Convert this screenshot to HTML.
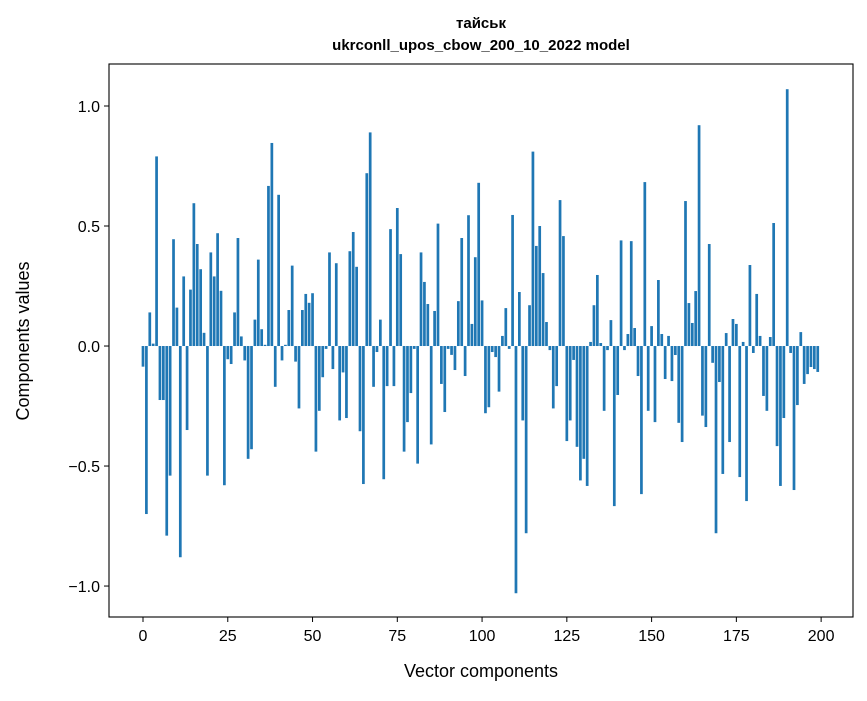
<!DOCTYPE html>
<html><head><meta charset="utf-8"><style>
body{margin:0;background:#fff;}
svg text{font-family:"Liberation Sans","DejaVu Sans",sans-serif;fill:#000;}
</style></head><body>
<svg id="chart" width="867" height="696" xmlns="http://www.w3.org/2000/svg">
<rect width="867" height="696" fill="#fff"/>
<text x="481" y="28" font-size="15" font-weight="bold" text-anchor="middle">тайськ</text>
<text x="481" y="50" font-size="15" font-weight="bold" text-anchor="middle">ukrconll_upos_cbow_200_10_2022 model</text>
<g id="bars"></g>
<g id="axes"></g>
<rect x="109" y="64" width="744" height="553" fill="none" stroke="#000" stroke-width="1.1"/>
<text x="481" y="677" font-size="18" text-anchor="middle">Vector components</text>
<text transform="translate(29,341) rotate(-90)" font-size="18" text-anchor="middle">Components values</text>
</svg>
<script>
const values = [-0.086,-0.70,0.14,0.01,0.79,-0.225,-0.225,-0.79,-0.54,0.445,0.16,-0.88,0.29,-0.35,0.235,0.595,0.425,0.32,0.055,-0.54,0.39,0.29,0.47,0.23,-0.58,
-0.055,-0.075,0.14,0.45,0.04,-0.06,-0.47,-0.43,0.11,0.36,0.07,0.005,0.667,0.846,-0.17,0.63,-0.06,0.005,0.15,0.335,-0.065,-0.26,0.15,0.217,0.18,
0.22,-0.44,-0.27,-0.13,-0.012,0.39,-0.096,0.345,-0.31,-0.11,-0.30,0.395,0.475,0.33,-0.355,-0.575,0.72,0.89,-0.17,-0.025,0.11,-0.555,-0.167,0.487,-0.167,
0.575,0.383,-0.44,-0.317,-0.196,-0.012,-0.49,0.39,0.267,0.175,-0.41,0.146,0.51,-0.158,-0.275,-0.012,-0.037,-0.1,0.187,0.45,-0.125,0.545,0.092,0.37,0.68,
0.19,-0.28,-0.255,-0.025,-0.046,-0.19,0.042,0.158,-0.012,0.546,-1.03,0.225,-0.31,-0.78,0.17,0.81,0.417,0.5,0.304,0.1,-0.017,-0.26,-0.167,0.608,0.458,
-0.396,-0.31,-0.058,-0.42,-0.56,-0.47,-0.583,0.017,0.17,0.296,0.0125,-0.27,-0.017,0.108,-0.667,-0.204,0.44,-0.017,0.05,0.437,0.075,-0.125,-0.617,0.683,-0.27,
0.083,-0.317,0.275,0.05,-0.1375,0.042,-0.146,-0.0375,-0.32,-0.40,0.604,0.179,0.096,0.229,0.92,-0.29,-0.3375,0.425,-0.07,-0.78,-0.15,-0.533,0.054,-0.40,0.1125,
0.092,-0.546,0.017,-0.646,0.3375,-0.029,0.217,0.042,-0.208,-0.27,0.0375,0.5125,-0.417,-0.583,-0.3,1.07,-0.029,-0.6,-0.246,0.058,-0.158,-0.117,-0.0875,-0.096,-0.108];
const xTicks = [0,25,50,75,100,125,150,175,200];
const yTicks = [1.0,0.5,0.0,-0.5,-1.0];
const yTickLabels = ["1.0","0.5","0.0","\u22120.5","\u22121.0"];
const NS="http://www.w3.org/2000/svg";
const X0=109,X1=853,Y0=64,Y1=617;
const xMin=-10.03,xMax=209.4,yMin=-1.129,yMax=1.175;
function xs(v){return X0+(v-xMin)/(xMax-xMin)*(X1-X0);}
function ys(v){return Y1-(v-yMin)/(yMax-yMin)*(Y1-Y0);}
const bars=document.getElementById('bars');
values.forEach((v,i)=>{
  const r=document.createElementNS(NS,'rect');
  
  
  const xa=xs(i-0.4),xb=xs(i+0.4);
  const ya=ys(Math.max(v,0)),yb=ys(Math.min(v,0));
  r.setAttribute('x',xa);r.setAttribute('width',xb-xa);
  r.setAttribute('y',ya);r.setAttribute('height',Math.max(yb-ya,0.3));
  r.setAttribute('fill','#1f77b4');
  bars.appendChild(r);
});
const axes=document.getElementById('axes');
xTicks.forEach(t=>{
  const l=document.createElementNS(NS,'line');
  
  
  l.setAttribute('x1',xs(t));l.setAttribute('x2',xs(t));l.setAttribute('y1',Y1);l.setAttribute('y2',Y1+5);
  l.setAttribute('stroke','#000');axes.appendChild(l);
  const tx=document.createElementNS(NS,'text');
  
  
  tx.setAttribute('x',xs(t));tx.setAttribute('y',Y1+24);tx.setAttribute('font-size','16');tx.setAttribute('text-anchor','middle');
  tx.textContent=String(t);axes.appendChild(tx);
});
yTicks.forEach((t,i)=>{
  const l=document.createElementNS(NS,'line');
  
  
  l.setAttribute('x1',X0-5);l.setAttribute('x2',X0);l.setAttribute('y1',ys(t));l.setAttribute('y2',ys(t));
  l.setAttribute('stroke','#000');axes.appendChild(l);
  const tx=document.createElementNS(NS,'text');
  
  
  tx.setAttribute('x',X0-9);tx.setAttribute('y',ys(t)+6);tx.setAttribute('font-size','16');tx.setAttribute('text-anchor','end');
  tx.textContent=yTickLabels[i];axes.appendChild(tx);
});
</script>
</body></html>
